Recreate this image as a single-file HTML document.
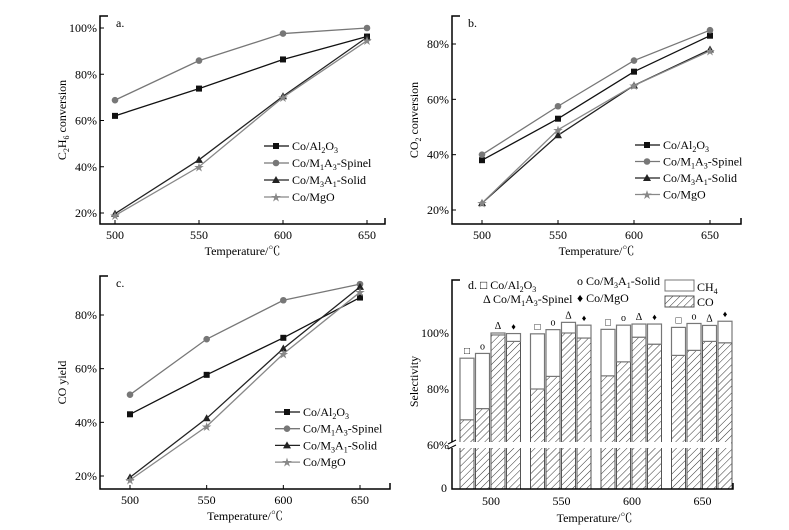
<!DOCTYPE html>
<html><head><meta charset="utf-8"><style>
html,body{margin:0;padding:0;background:#fff}
svg{display:block;font-family:"Liberation Serif","Noto Serif CJK SC",serif;font-size:12px}
</style></head><body>
<svg id="s" width="789" height="530">
<defs><pattern id="hatch" patternUnits="userSpaceOnUse" width="5" height="5" patternTransform="rotate(45)"><rect width="5" height="5" fill="#fff"/><line x1="0" y1="0" x2="0" y2="5" stroke="#333" stroke-width="1"/></pattern></defs>
</svg>
<script>
const temps=[500,550,600,650];
const seriesNames=["Co/Al2O3","Co/M1A3-Spinel","Co/M3A1-Solid","Co/MgO"];
const aAl=[62,73.8,86.4,96.3], aSp=[68.8,85.9,97.6,100], aSo=[19.7,43,70.5,96], aMg=[18.9,40,70,94.5];
const bAl=[38,53,70,83], bSp=[40,57.5,74,85], bSo=[22.5,47,65,78], bMg=[22.5,49,65,77.5];
const cAl=[43,57.7,71.5,86.5], cSp=[50.3,71,85.5,91.5], cSo=[19.5,41.5,67.5,90.5], cMg=[18.5,38.5,65.5,88.5];
const aTicks=[20,40,60,80,100], bTicks=[20,40,60,80], cTicks=[20,40,60,80];
// panel d: order per group Al, Solid, Spinel, MgO
const dCatalysts=["Co/Al2O3","Co/M3A1-Solid","Co/M1A3-Spinel","Co/MgO"];
const dTotal=[[91,92.7,100,99.8],[99.7,101.2,103.8,102.8],[101.3,102.8,103.2,103.2],[102,103.4,102.7,104.2]];
const dCO=[[69,73,99.3,97],[80,84.5,100,98.2],[84.7,89.7,98.5,96],[92,93.8,97,96.5]];
const dTicks=[60,80,100];

const S=document.getElementById('s'),NS='http://www.w3.org/2000/svg';
function el(t,a,p,txt){const e=document.createElementNS(NS,t);for(const k in a)e.setAttribute(k,a[k]);if(txt!==undefined)e.innerHTML=txt;(p||S).appendChild(e);return e;}
const lab={"Co/Al2O3":'Co/Al<tspan font-size="8" dy="3">2</tspan><tspan dy="-3">O</tspan><tspan font-size="8" dy="3">3</tspan>',
"Co/M1A3-Spinel":'Co/M<tspan font-size="8" dy="3">1</tspan><tspan dy="-3">A</tspan><tspan font-size="8" dy="3">3</tspan><tspan dy="-3">-Spinel</tspan>',
"Co/M3A1-Solid":'Co/M<tspan font-size="8" dy="3">3</tspan><tspan dy="-3">A</tspan><tspan font-size="8" dy="3">1</tspan><tspan dy="-3">-Solid</tspan>',
"Co/MgO":'Co/MgO'};
const cols=["#111","#777","#222","#888"];
function marker(g,k,x,y,c){
 if(k==0)el('rect',{x:x-3,y:y-3,width:6,height:6,fill:c},g);
 else if(k==1)el('circle',{cx:x,cy:y,r:3.3,fill:c},g);
 else if(k==2)el('path',{d:`M${x},${y-4}L${x+4},${y+3}L${x-4},${y+3}Z`,fill:c},g);
 else el('text',{x:x,y:y+4,'text-anchor':'middle','font-size':'10',fill:c},g,'★');
}
function linePanel(o){
 const g=el('g',{});
 const X=t=>o.x0+(t-500)/150*(o.x1-o.x0), Y=v=>o.yA+(v-o.vA)/(o.vB-o.vA)*(o.yB-o.yA);
 el('path',{d:`M${o.L+8},${o.T}H${o.L}V${o.B}H${o.R}V${o.B-6}`,fill:'none',stroke:'#000','stroke-width':1.5},g);
 o.ticks.forEach(v=>{el('line',{x1:o.L,x2:o.L+4,y1:Y(v),y2:Y(v),stroke:'#000'},g);el('text',{x:o.L-3,y:Y(v)+4,'text-anchor':'end'},g,v+'%');});
 temps.forEach(t=>{el('line',{x1:X(t),x2:X(t),y1:o.B,y2:o.B-4,stroke:'#000'},g);el('text',{x:X(t),y:o.B+15,'text-anchor':'middle'},g,t);});
 el('text',{x:(o.L+o.R)/2,y:o.B+31,'text-anchor':'middle'},g,'Temperature/℃');
 el('text',{x:0,y:0,transform:`translate(${o.yl},${(o.T+o.B)/2}) rotate(-90)`,'text-anchor':'middle'},g,o.ylab);
 el('text',{x:o.L+16,y:o.T+11},g,o.letter);
 o.data.forEach((arr,k)=>{
  const sg=el('g',{},g);
  el('polyline',{points:arr.map((v,i)=>X(temps[i])+','+Y(v)).join(' '),fill:'none',stroke:cols[k],'stroke-width':1.3},sg);
  arr.forEach((v,i)=>marker(sg,k,X(temps[i]),Y(v),cols[k]));
 });
 seriesNames.forEach((n,k)=>{
  const y=o.ly+k*o.ld;
  const lg=el('g',{},g);
  el('line',{x1:o.lx,x2:o.lx+25,y1:y,y2:y,stroke:cols[k],'stroke-width':1.3},lg);
  marker(lg,k,o.lx+12,y,cols[k]);
  el('text',{x:o.lx+28,y:y+4},lg,lab[n]);
 });
}
linePanel({name:'panel-a-c2h6-conversion',L:100,R:385,T:16,B:224,x0:115,x1:367,yA:28,vA:100,yB:213,vB:20,ticks:aTicks,data:[aAl,aSp,aSo,aMg],yl:66,ylab:'C<tspan font-size="8" dy="3">2</tspan><tspan dy="-3">H</tspan><tspan font-size="8" dy="3">6</tspan><tspan dy="-3"> conversion</tspan>',letter:'a.',lx:264,ly:146,ld:17});
linePanel({name:'panel-b-co2-conversion',L:452,R:741,T:16,B:224,x0:482,x1:710,yA:44,vA:80,yB:210,vB:20,ticks:bTicks,data:[bAl,bSp,bSo,bMg],yl:418,ylab:'CO<tspan font-size="8" dy="3">2</tspan><tspan dy="-3"> conversion</tspan>',letter:'b.',lx:635,ly:145,ld:16.5});
linePanel({name:'panel-c-co-yield',L:100,R:390,T:276,B:489,x0:130,x1:360,yA:315,vA:80,yB:476,vB:20,ticks:cTicks,data:[cAl,cSp,cSo,cMg],yl:66,ylab:'CO yield',letter:'c.',lx:275,ly:412,ld:16.7});

// panel d
(function(){
 const g=el('g',{});
 const L=452,R=733,T=280,B=489;
 const Y=v=>v>=60?445-(v-60)*2.8:B-(v/60)*44;
 const gx=i=>460+i*70.5;
 const sym=['□','o','Δ','♦'];
 dTotal.forEach((grp,i)=>grp.forEach((tot,j)=>{
  const x=gx(i)+j*15.5, co=dCO[i][j];
  const b=el('g',{},g);
  el('rect',{x:x,y:Y(co),width:14,height:B-Y(co),fill:'url(#hatch)',stroke:'#555','stroke-width':1},b);
  el('rect',{x:x,y:Y(tot),width:14,height:Y(co)-Y(tot),fill:'#fff',stroke:'#777','stroke-width':1.2},b);
  el('text',{x:x+7,y:Y(tot)-4,'text-anchor':'middle','font-size':sym[j]=='♦'?'9':'10'},b,sym[j]);
 }));
 el('rect',{x:L+2,y:442,width:R-L-4,height:6,fill:'#fff'},g);
 el('path',{d:`M${L+8},${T}H${L}V${B}H${R}V${B-6}`,fill:'none',stroke:'#000','stroke-width':1.5},g);
 el('rect',{x:L-3,y:442,width:6,height:6,fill:'#fff'},g);
 el('path',{d:`M${L-4},${444}l8,-4M${L-4},${449}l8,-4`,stroke:'#000'},g);
 dTicks.forEach(v=>el('text',{x:L-3,y:Y(v)+4,'text-anchor':'end'},g,v+'%'));
 el('text',{x:L-5,y:B+3,'text-anchor':'end'},g,'0');
 temps.forEach((t,i)=>el('text',{x:gx(i)+31,y:B+16,'text-anchor':'middle'},g,t));
 el('text',{x:(L+R)/2+2,y:B+33,'text-anchor':'middle'},g,'Temperature/℃');
 el('text',{x:0,y:0,transform:`translate(418,${(T+B)/2-3}) rotate(-90)`,'text-anchor':'middle'},g,'Selectivity');
 el('text',{x:468,y:289},g,'d. □ '+lab["Co/Al2O3"]);
 el('text',{x:483,y:303},g,'Δ '+lab["Co/M1A3-Spinel"]);
 el('text',{x:577,y:285},g,'o '+lab["Co/M3A1-Solid"]);
 el('text',{x:577,y:302},g,'♦ '+lab["Co/MgO"]);
 el('rect',{x:665,y:280,width:29,height:11,fill:'#fff',stroke:'#777'},g);
 el('rect',{x:665,y:296,width:29,height:11,fill:'url(#hatch)',stroke:'#555'},g);
 el('text',{x:697,y:291},g,'CH<tspan font-size="8" dy="3">4</tspan>');
 el('text',{x:697,y:306},g,'CO');
})();
</script>
</body></html>
